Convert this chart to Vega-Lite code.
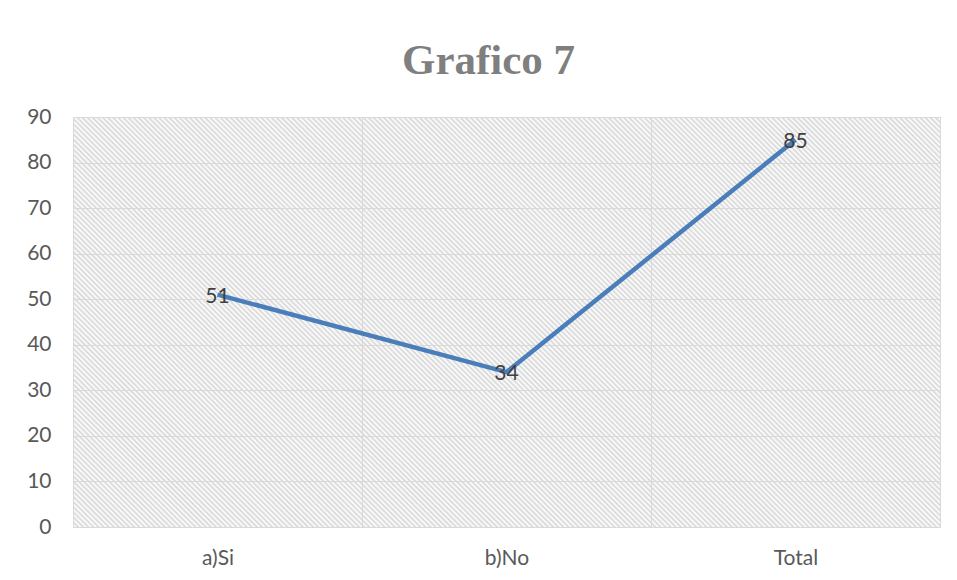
{
  "$schema": "https://vega.github.io/schema/vega-lite/v6.json",
  "width": 867,
  "height": 410,
  "autosize": {"type": "none"},
  "padding": {"left": 73, "top": 117, "right": 17, "bottom": 53},
  "background": "#ffffff",
  "title": {
    "text": "Grafico 7",
    "font": "Liberation Serif",
    "fontSize": 43,
    "fontWeight": "bold",
    "color": "#7f7f7f",
    "anchor": "middle",
    "baseline": "alphabetic",
    "offset": -11,
    "dx": -18
  },
  "config": {
    "view": {
      "stroke": "#d9d9d9",
      "strokeWidth": 1,
      "fill": {
        "gradient": "linear",
        "x1": 0, "y1": 1, "x2": 1.2037, "y2": 0.4306,
        "stops": [
{"offset":0,"color":"#d6d6d6"},{"offset":0.002,"color":"#fff"},{"offset":0.004,"color":"#d6d6d6"},{"offset":0.006,"color":"#fff"},{"offset":0.008,"color":"#d6d6d6"},{"offset":0.01,"color":"#fff"},{"offset":0.012,"color":"#d6d6d6"},{"offset":0.014,"color":"#fff"},{"offset":0.016,"color":"#d6d6d6"},{"offset":0.018,"color":"#fff"},
{"offset":0.02,"color":"#d6d6d6"},{"offset":0.022,"color":"#fff"},{"offset":0.024,"color":"#d6d6d6"},{"offset":0.026,"color":"#fff"},{"offset":0.028,"color":"#d6d6d6"},{"offset":0.03,"color":"#fff"},{"offset":0.032,"color":"#d6d6d6"},{"offset":0.034,"color":"#fff"},{"offset":0.036,"color":"#d6d6d6"},{"offset":0.038,"color":"#fff"},
{"offset":0.04,"color":"#d6d6d6"},{"offset":0.042,"color":"#fff"},{"offset":0.044,"color":"#d6d6d6"},{"offset":0.046,"color":"#fff"},{"offset":0.048,"color":"#d6d6d6"},{"offset":0.05,"color":"#fff"},{"offset":0.052,"color":"#d6d6d6"},{"offset":0.054,"color":"#fff"},{"offset":0.056,"color":"#d6d6d6"},{"offset":0.058,"color":"#fff"},
{"offset":0.06,"color":"#d6d6d6"},{"offset":0.062,"color":"#fff"},{"offset":0.064,"color":"#d6d6d6"},{"offset":0.066,"color":"#fff"},{"offset":0.068,"color":"#d6d6d6"},{"offset":0.07,"color":"#fff"},{"offset":0.072,"color":"#d6d6d6"},{"offset":0.074,"color":"#fff"},{"offset":0.076,"color":"#d6d6d6"},{"offset":0.078,"color":"#fff"},
{"offset":0.08,"color":"#d6d6d6"},{"offset":0.082,"color":"#fff"},{"offset":0.084,"color":"#d6d6d6"},{"offset":0.086,"color":"#fff"},{"offset":0.088,"color":"#d6d6d6"},{"offset":0.09,"color":"#fff"},{"offset":0.092,"color":"#d6d6d6"},{"offset":0.094,"color":"#fff"},{"offset":0.096,"color":"#d6d6d6"},{"offset":0.098,"color":"#fff"},
{"offset":0.1,"color":"#d6d6d6"},{"offset":0.102,"color":"#fff"},{"offset":0.104,"color":"#d6d6d6"},{"offset":0.106,"color":"#fff"},{"offset":0.108,"color":"#d6d6d6"},{"offset":0.11,"color":"#fff"},{"offset":0.112,"color":"#d6d6d6"},{"offset":0.114,"color":"#fff"},{"offset":0.116,"color":"#d6d6d6"},{"offset":0.118,"color":"#fff"},
{"offset":0.12,"color":"#d6d6d6"},{"offset":0.122,"color":"#fff"},{"offset":0.124,"color":"#d6d6d6"},{"offset":0.126,"color":"#fff"},{"offset":0.128,"color":"#d6d6d6"},{"offset":0.13,"color":"#fff"},{"offset":0.132,"color":"#d6d6d6"},{"offset":0.134,"color":"#fff"},{"offset":0.136,"color":"#d6d6d6"},{"offset":0.138,"color":"#fff"},
{"offset":0.14,"color":"#d6d6d6"},{"offset":0.142,"color":"#fff"},{"offset":0.144,"color":"#d6d6d6"},{"offset":0.146,"color":"#fff"},{"offset":0.148,"color":"#d6d6d6"},{"offset":0.15,"color":"#fff"},{"offset":0.152,"color":"#d6d6d6"},{"offset":0.154,"color":"#fff"},{"offset":0.156,"color":"#d6d6d6"},{"offset":0.158,"color":"#fff"},
{"offset":0.16,"color":"#d6d6d6"},{"offset":0.162,"color":"#fff"},{"offset":0.164,"color":"#d6d6d6"},{"offset":0.166,"color":"#fff"},{"offset":0.168,"color":"#d6d6d6"},{"offset":0.17,"color":"#fff"},{"offset":0.172,"color":"#d6d6d6"},{"offset":0.174,"color":"#fff"},{"offset":0.176,"color":"#d6d6d6"},{"offset":0.178,"color":"#fff"},
{"offset":0.18,"color":"#d6d6d6"},{"offset":0.182,"color":"#fff"},{"offset":0.184,"color":"#d6d6d6"},{"offset":0.186,"color":"#fff"},{"offset":0.188,"color":"#d6d6d6"},{"offset":0.19,"color":"#fff"},{"offset":0.192,"color":"#d6d6d6"},{"offset":0.194,"color":"#fff"},{"offset":0.196,"color":"#d6d6d6"},{"offset":0.198,"color":"#fff"},
{"offset":0.2,"color":"#d6d6d6"},{"offset":0.202,"color":"#fff"},{"offset":0.204,"color":"#d6d6d6"},{"offset":0.206,"color":"#fff"},{"offset":0.208,"color":"#d6d6d6"},{"offset":0.21,"color":"#fff"},{"offset":0.212,"color":"#d6d6d6"},{"offset":0.214,"color":"#fff"},{"offset":0.216,"color":"#d6d6d6"},{"offset":0.218,"color":"#fff"},
{"offset":0.22,"color":"#d6d6d6"},{"offset":0.222,"color":"#fff"},{"offset":0.224,"color":"#d6d6d6"},{"offset":0.226,"color":"#fff"},{"offset":0.228,"color":"#d6d6d6"},{"offset":0.23,"color":"#fff"},{"offset":0.232,"color":"#d6d6d6"},{"offset":0.234,"color":"#fff"},{"offset":0.236,"color":"#d6d6d6"},{"offset":0.238,"color":"#fff"},
{"offset":0.24,"color":"#d6d6d6"},{"offset":0.242,"color":"#fff"},{"offset":0.244,"color":"#d6d6d6"},{"offset":0.246,"color":"#fff"},{"offset":0.248,"color":"#d6d6d6"},{"offset":0.25,"color":"#fff"},{"offset":0.252,"color":"#d6d6d6"},{"offset":0.254,"color":"#fff"},{"offset":0.256,"color":"#d6d6d6"},{"offset":0.258,"color":"#fff"},
{"offset":0.26,"color":"#d6d6d6"},{"offset":0.262,"color":"#fff"},{"offset":0.264,"color":"#d6d6d6"},{"offset":0.266,"color":"#fff"},{"offset":0.268,"color":"#d6d6d6"},{"offset":0.27,"color":"#fff"},{"offset":0.272,"color":"#d6d6d6"},{"offset":0.274,"color":"#fff"},{"offset":0.276,"color":"#d6d6d6"},{"offset":0.278,"color":"#fff"},
{"offset":0.28,"color":"#d6d6d6"},{"offset":0.282,"color":"#fff"},{"offset":0.284,"color":"#d6d6d6"},{"offset":0.286,"color":"#fff"},{"offset":0.288,"color":"#d6d6d6"},{"offset":0.29,"color":"#fff"},{"offset":0.292,"color":"#d6d6d6"},{"offset":0.294,"color":"#fff"},{"offset":0.296,"color":"#d6d6d6"},{"offset":0.298,"color":"#fff"},
{"offset":0.3,"color":"#d6d6d6"},{"offset":0.302,"color":"#fff"},{"offset":0.304,"color":"#d6d6d6"},{"offset":0.306,"color":"#fff"},{"offset":0.308,"color":"#d6d6d6"},{"offset":0.31,"color":"#fff"},{"offset":0.312,"color":"#d6d6d6"},{"offset":0.314,"color":"#fff"},{"offset":0.316,"color":"#d6d6d6"},{"offset":0.318,"color":"#fff"},
{"offset":0.32,"color":"#d6d6d6"},{"offset":0.322,"color":"#fff"},{"offset":0.324,"color":"#d6d6d6"},{"offset":0.326,"color":"#fff"},{"offset":0.328,"color":"#d6d6d6"},{"offset":0.33,"color":"#fff"},{"offset":0.332,"color":"#d6d6d6"},{"offset":0.334,"color":"#fff"},{"offset":0.336,"color":"#d6d6d6"},{"offset":0.338,"color":"#fff"},
{"offset":0.34,"color":"#d6d6d6"},{"offset":0.342,"color":"#fff"},{"offset":0.344,"color":"#d6d6d6"},{"offset":0.346,"color":"#fff"},{"offset":0.348,"color":"#d6d6d6"},{"offset":0.35,"color":"#fff"},{"offset":0.352,"color":"#d6d6d6"},{"offset":0.354,"color":"#fff"},{"offset":0.356,"color":"#d6d6d6"},{"offset":0.358,"color":"#fff"},
{"offset":0.36,"color":"#d6d6d6"},{"offset":0.362,"color":"#fff"},{"offset":0.364,"color":"#d6d6d6"},{"offset":0.366,"color":"#fff"},{"offset":0.368,"color":"#d6d6d6"},{"offset":0.37,"color":"#fff"},{"offset":0.372,"color":"#d6d6d6"},{"offset":0.374,"color":"#fff"},{"offset":0.376,"color":"#d6d6d6"},{"offset":0.378,"color":"#fff"},
{"offset":0.38,"color":"#d6d6d6"},{"offset":0.382,"color":"#fff"},{"offset":0.384,"color":"#d6d6d6"},{"offset":0.386,"color":"#fff"},{"offset":0.388,"color":"#d6d6d6"},{"offset":0.39,"color":"#fff"},{"offset":0.392,"color":"#d6d6d6"},{"offset":0.394,"color":"#fff"},{"offset":0.396,"color":"#d6d6d6"},{"offset":0.398,"color":"#fff"},
{"offset":0.4,"color":"#d6d6d6"},{"offset":0.402,"color":"#fff"},{"offset":0.404,"color":"#d6d6d6"},{"offset":0.406,"color":"#fff"},{"offset":0.408,"color":"#d6d6d6"},{"offset":0.41,"color":"#fff"},{"offset":0.412,"color":"#d6d6d6"},{"offset":0.414,"color":"#fff"},{"offset":0.416,"color":"#d6d6d6"},{"offset":0.418,"color":"#fff"},
{"offset":0.42,"color":"#d6d6d6"},{"offset":0.422,"color":"#fff"},{"offset":0.424,"color":"#d6d6d6"},{"offset":0.426,"color":"#fff"},{"offset":0.428,"color":"#d6d6d6"},{"offset":0.43,"color":"#fff"},{"offset":0.432,"color":"#d6d6d6"},{"offset":0.434,"color":"#fff"},{"offset":0.436,"color":"#d6d6d6"},{"offset":0.438,"color":"#fff"},
{"offset":0.44,"color":"#d6d6d6"},{"offset":0.442,"color":"#fff"},{"offset":0.444,"color":"#d6d6d6"},{"offset":0.446,"color":"#fff"},{"offset":0.448,"color":"#d6d6d6"},{"offset":0.45,"color":"#fff"},{"offset":0.452,"color":"#d6d6d6"},{"offset":0.454,"color":"#fff"},{"offset":0.456,"color":"#d6d6d6"},{"offset":0.458,"color":"#fff"},
{"offset":0.46,"color":"#d6d6d6"},{"offset":0.462,"color":"#fff"},{"offset":0.464,"color":"#d6d6d6"},{"offset":0.466,"color":"#fff"},{"offset":0.468,"color":"#d6d6d6"},{"offset":0.47,"color":"#fff"},{"offset":0.472,"color":"#d6d6d6"},{"offset":0.474,"color":"#fff"},{"offset":0.476,"color":"#d6d6d6"},{"offset":0.478,"color":"#fff"},
{"offset":0.48,"color":"#d6d6d6"},{"offset":0.482,"color":"#fff"},{"offset":0.484,"color":"#d6d6d6"},{"offset":0.486,"color":"#fff"},{"offset":0.488,"color":"#d6d6d6"},{"offset":0.49,"color":"#fff"},{"offset":0.492,"color":"#d6d6d6"},{"offset":0.494,"color":"#fff"},{"offset":0.496,"color":"#d6d6d6"},{"offset":0.498,"color":"#fff"},
{"offset":0.5,"color":"#d6d6d6"},{"offset":0.502,"color":"#fff"},{"offset":0.504,"color":"#d6d6d6"},{"offset":0.506,"color":"#fff"},{"offset":0.508,"color":"#d6d6d6"},{"offset":0.51,"color":"#fff"},{"offset":0.512,"color":"#d6d6d6"},{"offset":0.514,"color":"#fff"},{"offset":0.516,"color":"#d6d6d6"},{"offset":0.518,"color":"#fff"},
{"offset":0.52,"color":"#d6d6d6"},{"offset":0.522,"color":"#fff"},{"offset":0.524,"color":"#d6d6d6"},{"offset":0.526,"color":"#fff"},{"offset":0.528,"color":"#d6d6d6"},{"offset":0.53,"color":"#fff"},{"offset":0.532,"color":"#d6d6d6"},{"offset":0.534,"color":"#fff"},{"offset":0.536,"color":"#d6d6d6"},{"offset":0.538,"color":"#fff"},
{"offset":0.54,"color":"#d6d6d6"},{"offset":0.542,"color":"#fff"},{"offset":0.544,"color":"#d6d6d6"},{"offset":0.546,"color":"#fff"},{"offset":0.548,"color":"#d6d6d6"},{"offset":0.55,"color":"#fff"},{"offset":0.552,"color":"#d6d6d6"},{"offset":0.554,"color":"#fff"},{"offset":0.556,"color":"#d6d6d6"},{"offset":0.558,"color":"#fff"},
{"offset":0.56,"color":"#d6d6d6"},{"offset":0.562,"color":"#fff"},{"offset":0.564,"color":"#d6d6d6"},{"offset":0.566,"color":"#fff"},{"offset":0.568,"color":"#d6d6d6"},{"offset":0.57,"color":"#fff"},{"offset":0.572,"color":"#d6d6d6"},{"offset":0.574,"color":"#fff"},{"offset":0.576,"color":"#d6d6d6"},{"offset":0.578,"color":"#fff"},
{"offset":0.58,"color":"#d6d6d6"},{"offset":0.582,"color":"#fff"},{"offset":0.584,"color":"#d6d6d6"},{"offset":0.586,"color":"#fff"},{"offset":0.588,"color":"#d6d6d6"},{"offset":0.59,"color":"#fff"},{"offset":0.592,"color":"#d6d6d6"},{"offset":0.594,"color":"#fff"},{"offset":0.596,"color":"#d6d6d6"},{"offset":0.598,"color":"#fff"},
{"offset":0.6,"color":"#d6d6d6"},{"offset":0.602,"color":"#fff"},{"offset":0.604,"color":"#d6d6d6"},{"offset":0.606,"color":"#fff"},{"offset":0.608,"color":"#d6d6d6"},{"offset":0.61,"color":"#fff"},{"offset":0.612,"color":"#d6d6d6"},{"offset":0.614,"color":"#fff"},{"offset":0.616,"color":"#d6d6d6"},{"offset":0.618,"color":"#fff"},
{"offset":0.62,"color":"#d6d6d6"},{"offset":0.622,"color":"#fff"},{"offset":0.624,"color":"#d6d6d6"},{"offset":0.626,"color":"#fff"},{"offset":0.628,"color":"#d6d6d6"},{"offset":0.63,"color":"#fff"},{"offset":0.632,"color":"#d6d6d6"},{"offset":0.634,"color":"#fff"},{"offset":0.636,"color":"#d6d6d6"},{"offset":0.638,"color":"#fff"},
{"offset":0.64,"color":"#d6d6d6"},{"offset":0.642,"color":"#fff"},{"offset":0.644,"color":"#d6d6d6"},{"offset":0.646,"color":"#fff"},{"offset":0.648,"color":"#d6d6d6"},{"offset":0.65,"color":"#fff"},{"offset":0.652,"color":"#d6d6d6"},{"offset":0.654,"color":"#fff"},{"offset":0.656,"color":"#d6d6d6"},{"offset":0.658,"color":"#fff"},
{"offset":0.66,"color":"#d6d6d6"},{"offset":0.662,"color":"#fff"},{"offset":0.664,"color":"#d6d6d6"},{"offset":0.666,"color":"#fff"},{"offset":0.668,"color":"#d6d6d6"},{"offset":0.67,"color":"#fff"},{"offset":0.672,"color":"#d6d6d6"},{"offset":0.674,"color":"#fff"},{"offset":0.676,"color":"#d6d6d6"},{"offset":0.678,"color":"#fff"},
{"offset":0.68,"color":"#d6d6d6"},{"offset":0.682,"color":"#fff"},{"offset":0.684,"color":"#d6d6d6"},{"offset":0.686,"color":"#fff"},{"offset":0.688,"color":"#d6d6d6"},{"offset":0.69,"color":"#fff"},{"offset":0.692,"color":"#d6d6d6"},{"offset":0.694,"color":"#fff"},{"offset":0.696,"color":"#d6d6d6"},{"offset":0.698,"color":"#fff"},
{"offset":0.7,"color":"#d6d6d6"},{"offset":0.702,"color":"#fff"},{"offset":0.704,"color":"#d6d6d6"},{"offset":0.706,"color":"#fff"},{"offset":0.708,"color":"#d6d6d6"},{"offset":0.71,"color":"#fff"},{"offset":0.712,"color":"#d6d6d6"},{"offset":0.714,"color":"#fff"},{"offset":0.716,"color":"#d6d6d6"},{"offset":0.718,"color":"#fff"},
{"offset":0.72,"color":"#d6d6d6"},{"offset":0.722,"color":"#fff"},{"offset":0.724,"color":"#d6d6d6"},{"offset":0.726,"color":"#fff"},{"offset":0.728,"color":"#d6d6d6"},{"offset":0.73,"color":"#fff"},{"offset":0.732,"color":"#d6d6d6"},{"offset":0.734,"color":"#fff"},{"offset":0.736,"color":"#d6d6d6"},{"offset":0.738,"color":"#fff"},
{"offset":0.74,"color":"#d6d6d6"},{"offset":0.742,"color":"#fff"},{"offset":0.744,"color":"#d6d6d6"},{"offset":0.746,"color":"#fff"},{"offset":0.748,"color":"#d6d6d6"},{"offset":0.75,"color":"#fff"},{"offset":0.752,"color":"#d6d6d6"},{"offset":0.754,"color":"#fff"},{"offset":0.756,"color":"#d6d6d6"},{"offset":0.758,"color":"#fff"},
{"offset":0.76,"color":"#d6d6d6"},{"offset":0.762,"color":"#fff"},{"offset":0.764,"color":"#d6d6d6"},{"offset":0.766,"color":"#fff"},{"offset":0.768,"color":"#d6d6d6"},{"offset":0.77,"color":"#fff"},{"offset":0.772,"color":"#d6d6d6"},{"offset":0.774,"color":"#fff"},{"offset":0.776,"color":"#d6d6d6"},{"offset":0.778,"color":"#fff"},
{"offset":0.78,"color":"#d6d6d6"},{"offset":0.782,"color":"#fff"},{"offset":0.784,"color":"#d6d6d6"},{"offset":0.786,"color":"#fff"},{"offset":0.788,"color":"#d6d6d6"},{"offset":0.79,"color":"#fff"},{"offset":0.792,"color":"#d6d6d6"},{"offset":0.794,"color":"#fff"},{"offset":0.796,"color":"#d6d6d6"},{"offset":0.798,"color":"#fff"},
{"offset":0.8,"color":"#d6d6d6"},{"offset":0.802,"color":"#fff"},{"offset":0.804,"color":"#d6d6d6"},{"offset":0.806,"color":"#fff"},{"offset":0.808,"color":"#d6d6d6"},{"offset":0.81,"color":"#fff"},{"offset":0.812,"color":"#d6d6d6"},{"offset":0.814,"color":"#fff"},{"offset":0.816,"color":"#d6d6d6"},{"offset":0.818,"color":"#fff"},
{"offset":0.82,"color":"#d6d6d6"},{"offset":0.822,"color":"#fff"},{"offset":0.824,"color":"#d6d6d6"},{"offset":0.826,"color":"#fff"},{"offset":0.828,"color":"#d6d6d6"},{"offset":0.83,"color":"#fff"},{"offset":0.832,"color":"#d6d6d6"},{"offset":0.834,"color":"#fff"},{"offset":0.836,"color":"#d6d6d6"},{"offset":0.838,"color":"#fff"},
{"offset":0.84,"color":"#d6d6d6"},{"offset":0.842,"color":"#fff"},{"offset":0.844,"color":"#d6d6d6"},{"offset":0.846,"color":"#fff"},{"offset":0.848,"color":"#d6d6d6"},{"offset":0.85,"color":"#fff"},{"offset":0.852,"color":"#d6d6d6"},{"offset":0.854,"color":"#fff"},{"offset":0.856,"color":"#d6d6d6"},{"offset":0.858,"color":"#fff"},
{"offset":0.86,"color":"#d6d6d6"},{"offset":0.862,"color":"#fff"},{"offset":0.864,"color":"#d6d6d6"},{"offset":0.866,"color":"#fff"},{"offset":0.868,"color":"#d6d6d6"},{"offset":0.87,"color":"#fff"},{"offset":0.872,"color":"#d6d6d6"},{"offset":0.874,"color":"#fff"},{"offset":0.876,"color":"#d6d6d6"},{"offset":0.878,"color":"#fff"},
{"offset":0.88,"color":"#d6d6d6"},{"offset":0.882,"color":"#fff"},{"offset":0.884,"color":"#d6d6d6"},{"offset":0.886,"color":"#fff"},{"offset":0.888,"color":"#d6d6d6"},{"offset":0.89,"color":"#fff"},{"offset":0.892,"color":"#d6d6d6"},{"offset":0.894,"color":"#fff"},{"offset":0.896,"color":"#d6d6d6"},{"offset":0.898,"color":"#fff"},
{"offset":0.9,"color":"#d6d6d6"},{"offset":0.902,"color":"#fff"},{"offset":0.904,"color":"#d6d6d6"},{"offset":0.906,"color":"#fff"},{"offset":0.908,"color":"#d6d6d6"},{"offset":0.91,"color":"#fff"},{"offset":0.912,"color":"#d6d6d6"},{"offset":0.914,"color":"#fff"},{"offset":0.916,"color":"#d6d6d6"},{"offset":0.918,"color":"#fff"},
{"offset":0.92,"color":"#d6d6d6"},{"offset":0.922,"color":"#fff"},{"offset":0.924,"color":"#d6d6d6"},{"offset":0.926,"color":"#fff"},{"offset":0.928,"color":"#d6d6d6"},{"offset":0.93,"color":"#fff"},{"offset":0.932,"color":"#d6d6d6"},{"offset":0.934,"color":"#fff"},{"offset":0.936,"color":"#d6d6d6"},{"offset":0.938,"color":"#fff"},
{"offset":0.94,"color":"#d6d6d6"},{"offset":0.942,"color":"#fff"},{"offset":0.944,"color":"#d6d6d6"},{"offset":0.946,"color":"#fff"},{"offset":0.948,"color":"#d6d6d6"},{"offset":0.95,"color":"#fff"},{"offset":0.952,"color":"#d6d6d6"},{"offset":0.954,"color":"#fff"},{"offset":0.956,"color":"#d6d6d6"},{"offset":0.958,"color":"#fff"},
{"offset":0.96,"color":"#d6d6d6"},{"offset":0.962,"color":"#fff"},{"offset":0.964,"color":"#d6d6d6"},{"offset":0.966,"color":"#fff"},{"offset":0.968,"color":"#d6d6d6"},{"offset":0.97,"color":"#fff"},{"offset":0.972,"color":"#d6d6d6"},{"offset":0.974,"color":"#fff"},{"offset":0.976,"color":"#d6d6d6"},{"offset":0.978,"color":"#fff"},
{"offset":0.98,"color":"#d6d6d6"},{"offset":0.982,"color":"#fff"},{"offset":0.984,"color":"#d6d6d6"},{"offset":0.986,"color":"#fff"},{"offset":0.988,"color":"#d6d6d6"},{"offset":0.99,"color":"#fff"},{"offset":0.992,"color":"#d6d6d6"},{"offset":0.994,"color":"#fff"},{"offset":0.996,"color":"#d6d6d6"},{"offset":0.998,"color":"#fff"},
{"offset":1,"color":"#d6d6d6"}
        ]
      }
    },
    "axis": {
      "labelFont": "Lato",
      "labelFontSize": 21,
      "labelColor": "#595959",
      "gridColor": "#d9d9d9",
      "gridWidth": 1,
      "domain": false,
      "ticks": false,
      "title": null
    }
  },
  "data": {
    "values": [
      {"categoria": "a)Si", "valor": 51},
      {"categoria": "b)No", "valor": 34},
      {"categoria": "Total", "valor": 85}
    ]
  },
  "encoding": {
    "x": {
      "field": "categoria",
      "type": "nominal",
      "sort": null,
      "scale": {"type": "band", "paddingInner": 0, "paddingOuter": 0},
      "axis": {"grid": true, "tickBand": "extent", "labelAngle": 0, "labelPadding": 20}
    },
    "y": {
      "field": "valor",
      "type": "quantitative",
      "scale": {"domain": [0, 90], "nice": false},
      "axis": {"values": [0, 10, 20, 30, 40, 50, 60, 70, 80, 90], "grid": true, "labelPadding": 22}
    }
  },
  "layer": [
    {
      "mark": {"type": "line", "color": "#4a7ebb", "strokeWidth": 4.5}
    },
    {
      "mark": {"type": "text", "font": "Lato", "fontSize": 21, "color": "#404040", "align": "center", "baseline": "middle", "dy": 2},
      "encoding": {"text": {"field": "valor", "type": "quantitative"}}
    }
  ]
}
